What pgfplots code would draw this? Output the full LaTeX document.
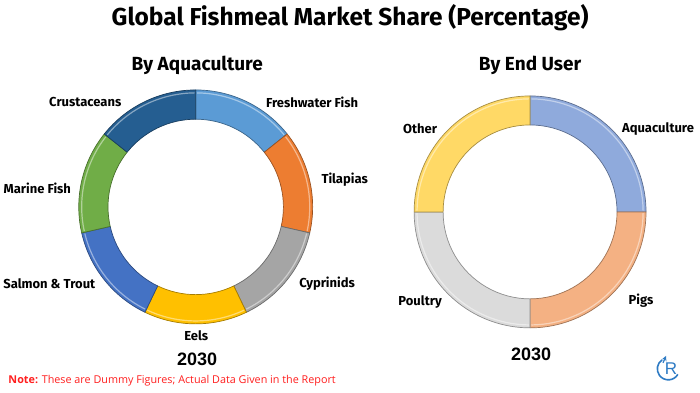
\documentclass[border=0pt]{standalone}
\usepackage{pgfplots}
\pgfplotsset{compat=1.18}
\usepackage{pgfplotstable}
\usepackage{fontspec}
\setmainfont{Fira Sans}
\newfontfamily\arialf{Liberation Sans}
\newfontfamily\openf{Open Sans}

\definecolor{cFresh}{HTML}{5B9BD5}
\definecolor{cTil}{HTML}{ED7D31}
\definecolor{cCyp}{HTML}{A5A5A5}
\definecolor{cEel}{HTML}{FFC000}
\definecolor{cSal}{HTML}{4472C4}
\definecolor{cMar}{HTML}{70AD47}
\definecolor{cCru}{HTML}{255E91}
\definecolor{cAqua}{HTML}{8FAADC}
\definecolor{cPig}{HTML}{F4B183}
\definecolor{cPou}{HTML}{DBDBDB}
\definecolor{cOth}{HTML}{FFD966}
\definecolor{noteRed}{HTML}{FF1F1F}
\definecolor{logoBlue}{HTML}{2E7BC4}

\pgfplotstableread[col sep=comma]{
label,value,color
Freshwater Fish,14.2857,cFresh
Tilapias,14.2857,cTil
Cyprinids,14.2857,cCyp
Eels,14.2857,cEel
Salmon & Trout,14.2857,cSal
Marine Fish,14.2857,cMar
Crustaceans,14.2857,cCru
}\aquatable

\pgfplotstableread[col sep=comma]{
label,value,color
Aquaculture,25,cAqua
Pigs,25,cPig
Poultry,25,cPou
Other,25,cOth
}\usertable

% #1 table, #2 outer radius (pt), #3 inner radius fraction, #4 inner radius (pt)
\newcommand\donut[4]{%
  \def\cum{0}%
  \pgfplotstablegetrowsof{#1}%
  \pgfmathtruncatemacro\nr{\pgfplotsretval-1}%
  \pgfplotsforeachungrouped \i in {0,...,\nr}{%
    \pgfplotstablegetelem{\i}{value}\of#1\let\v\pgfplotsretval
    \pgfplotstablegetelem{\i}{color}\of#1\let\c\pgfplotsretval
    \pgfmathsetmacro\a{90-3.6*\cum}%
    \pgfmathsetmacro\b{90-3.6*(\cum+\v)}%
    \edef\temp{\noexpand\fill[fill=\c, draw=\c!65!black, line width=0.7pt, line join=round]
      (axis cs:{cos(\a)},{sin(\a)}) arc[start angle=\a, end angle=\b, radius=#2]
      -- (axis cs:{#3*cos(\b)},{#3*sin(\b)}) arc[start angle=\b, end angle=\a, radius=#4] -- cycle;
      \noexpand\draw[white, opacity=0.45, line width=1.2pt]
      (axis cs:{0.975*cos(\a-0.6)},{0.975*sin(\a-0.6)}) arc[start angle=\a-0.6, end angle=\b+0.6, radius=0.975*#2];}%
    \temp
    \pgfmathsetmacro\cum{\cum+\v}%
  }%
}

\pgfplotsset{donut/.style={hide axis, scale only axis, anchor=center,
  xmin=-1, xmax=1, ymin=-1, ymax=1, clip=false}}

\begin{document}
\begin{tikzpicture}[x=1pt,y=1pt]
\path[fill=white] (0,0) rectangle (700,393);

\node[font=\fontsize{24.5}{26}\selectfont\bfseries] at (350,375) {Global Fishmeal Market Share (Percentage)};
\node[font=\fontsize{19}{21}\selectfont\bfseries] at (197,328) {By Aquaculture};
\node[font=\fontsize{19}{21}\selectfont\bfseries] at (530,328) {By End User};

\begin{axis}[donut, width=234pt, height=234pt, at={(195.5pt,186pt)}]
  \donut{\aquatable}{117pt}{0.75}{87.75pt}
\end{axis}

\begin{axis}[donut, width=232pt, height=232pt, at={(530pt,181pt)}]
  \donut{\usertable}{116pt}{0.75}{87pt}
\end{axis}

\begin{scope}[every node/.style={font=\fontsize{13}{15}\selectfont\bfseries}]
\node at (85,291) {Crustaceans};
\node at (312,291) {Freshwater Fish};
\node at (344.5,213) {Tilapias};
\node at (37,205) {Marine Fish};
\node at (327,109) {Cyprinids};
\node at (49,109) {Salmon \& Trout};
\node at (196,57) {Eels};
\node at (420,264) {Other};
\node at (658,264) {Aquaculture};
\node at (641,92) {Pigs};
\node at (420,91) {Poultry};
\end{scope}

\node[font=\arialf\fontsize{18}{20}\selectfont\bfseries] at (197,34) {2030};
\node[font=\arialf\fontsize{18}{20}\selectfont\bfseries] at (531,39) {2030};

\node[anchor=west, inner sep=0pt, font=\openf\fontsize{10.8}{12}\selectfont, text=noteRed] at (8,12)
  {\textbf{Note:} These are Dummy Figures; Actual Data Given in the Report};

% logo
\draw[logoBlue, line width=1.6pt] (662,33) arc[start angle=125, end angle=330, radius=11];
\draw[logoBlue, line width=1.2pt, -stealth] (663,30) -- (666,37);
\node[text=logoBlue, font=\arialf\fontsize{17}{18}\selectfont] at (671,24) {R};
\end{tikzpicture}
\end{document}
